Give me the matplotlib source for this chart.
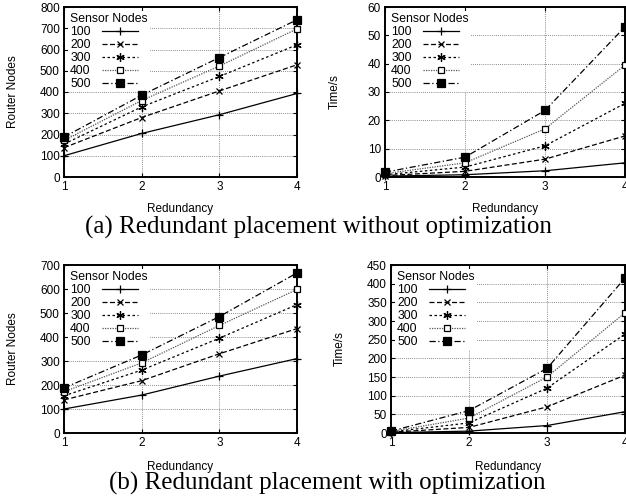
import matplotlib
matplotlib.use('Agg')
import matplotlib.pyplot as plt

W, H = 626, 497

redundancy = [1, 2, 3, 4]
sensor_nodes = ['100', '200', '300', '400', '500']

# (a) without optimization
router_a = [
    [100, 205, 293, 393],
    [138, 280, 405, 528],
    [155, 330, 473, 622],
    [172, 360, 522, 697],
    [188, 385, 562, 740],
]
time_a = [
    [0.3, 0.8, 2.2, 5.0],
    [0.5, 2.0, 6.3, 14.5],
    [0.8, 3.5, 11.0, 26.0],
    [1.2, 5.0, 17.0, 39.5],
    [1.7, 7.0, 23.5, 53.0],
]
# (b) with optimization
router_b = [
    [100, 158, 237, 310],
    [138, 218, 330, 435],
    [155, 262, 395, 535],
    [172, 292, 448, 598],
    [188, 325, 485, 667],
]
time_b = [
    [1, 5, 20, 57],
    [2, 15, 70, 155],
    [3, 27, 120, 265],
    [4, 40, 150, 322],
    [5, 60, 173, 415],
]

styles = [
    dict(ls='-', marker='+', mfc='black', color='black', ms=6),
    dict(ls=(0, (4, 2)), marker='x', mfc='black', color='black', ms=5),
    dict(ls=(0, (2, 2)), marker=(6, 2, 0), mfc='black', color='black', ms=6),
    dict(ls=(0, (1, 1)), marker='s', mfc='white', color='#555555', mec='black', ms=5),
    dict(ls=(0, (5, 2, 1, 2)), marker='s', mfc='black', color='black', ms=5.5),
]

plt.rcParams['font.family'] = 'Liberation Sans'

fig = plt.figure(figsize=(W / 100, H / 100), dpi=100)


def px_rect(l, t, r, b):
    return [l / W, 1 - b / H, (r - l) / W, (b - t) / H]


def panel(rect, data, ymax, ystep, ylabel, ylab_px, xlab_py):
    ax = fig.add_axes(px_rect(*rect))
    for vals, name, st in zip(data, sensor_nodes, styles):
        ax.plot(redundancy, vals, label=name, lw=0.9, mew=0.9, zorder=3,
                clip_on=False, **st)
    ax.set_xlim(1, 4)
    ax.set_ylim(0, ymax)
    ax.set_xticks(redundancy)
    ax.set_yticks(range(0, ymax + 1, ystep))
    ax.tick_params(direction='in', top=True, right=True, labelsize=8.5,
                   length=3, width=0.8, pad=3)
    ax.set_axisbelow(True)
    ax.grid(True, ls=(0, (1, 1.5)), lw=0.6, color='#666666')
    for s in ax.spines.values():
        s.set_linewidth(1.4)
    ax.set_ylabel(ylabel, fontsize=8.5, va='center')
    ax.yaxis.set_label_coords(ylab_px / W, 1 - (rect[1] + rect[3]) / 2 / H,
                              transform=fig.transFigure)
    ax.set_xlabel('Redundancy', fontsize=8.5)
    ax.xaxis.set_label_coords((rect[0] + rect[2]) / 2 / W, 1 - xlab_py / H,
                              transform=fig.transFigure)
    ax.xaxis.label.set_va('center')
    leg = ax.legend(loc='upper left', title='Sensor Nodes', markerfirst=False,
                    fontsize=8.8, title_fontsize=8.8, frameon=True,
                    fancybox=False, edgecolor='none', facecolor='white',
                    framealpha=1, borderpad=0.2, borderaxespad=0.3,
                    handlelength=3.0, handletextpad=0.9, labelspacing=0.08,
                    alignment='left')
    leg.set_zorder(2)
    return ax


panel((64, 7, 297, 177), router_a, 800, 100, 'Router Nodes', 13, 209)
panel((385, 7, 625, 177), time_a, 60, 10, 'Time/s', 335, 209)
panel((64, 265, 297, 433), router_b, 700, 100, 'Router Nodes', 13, 467)
panel((391, 265, 625, 433), time_b, 450, 50, 'Time/s', 340, 467)

fig.text(85 / W, 1 - 227 / H, '(a) Redundant placement without optimization',
         ha='left', va='center', fontsize=18, family='Liberation Serif')
fig.text(109 / W, 1 - 483 / H, '(b) Redundant placement with optimization',
         ha='left', va='center', fontsize=18, family='Liberation Serif')

fig.savefig('out.png', dpi=100)
